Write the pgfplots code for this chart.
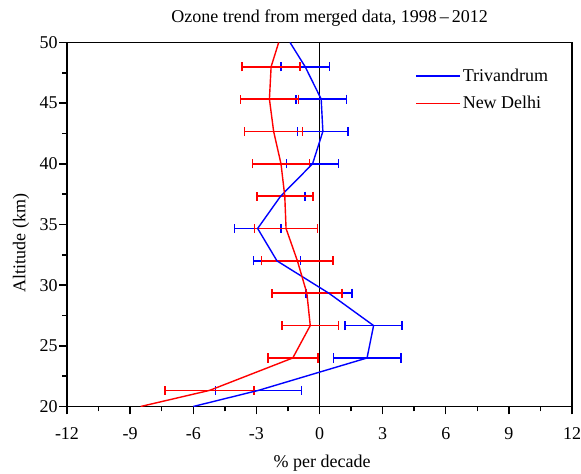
\documentclass[border=0pt]{standalone}
\usepackage{fontspec}
\setmainfont{Liberation Serif}
\usepackage{pgfplots}
\pgfplotsset{compat=1.18}
\begin{document}
\fontsize{9}{11}\selectfont
\begin{tikzpicture}
\path[use as bounding box] (-33.5pt,-33.75pt) rectangle (257pt,203.25pt);
\begin{axis}[
  at={(0,0)}, anchor=south west,
  scale only axis, width=252.5pt, height=182pt,
  xmin=-12, xmax=12, ymin=20, ymax=50,
  xtick={-12,-9,...,12}, ytick={20,25,...,50},
  minor x tick num=1, minor y tick num=1,
  tick pos=left, tick align=outside,
  major tick length=4pt, minor tick length=2.5pt,
  every tick/.append style={black, line width=0.7pt},
  axis line style={line width=0.75pt},
  /pgf/number format/assume math mode=true,
  tick label style={font=\fontsize{9}{11}\selectfont},
  xticklabel style={yshift=-3.5pt},
  yticklabel style={xshift=2.5pt},
  label style={font=\fontsize{9}{11}\selectfont},
  title style={font=\fontsize{9}{11}\selectfont, at={(axis description cs:0.52,1)}, anchor=base, yshift=4pt},
  title={Ozone trend from merged data, 1998\,--\,2012},
  xlabel={\% per decade},
  xlabel style={at={(axis description cs:0.505,0)}, anchor=base, yshift=-30.5pt},
  ylabel={Altitude (km)},
  ylabel style={at={(axis description cs:-0.091,0.449)}, anchor=center},
  legend style={at={(0.689,0.935)}, anchor=north west, draw=none, fill=none,
    inner sep=0pt, row sep=4pt, font=\fontsize{9}{11}\selectfont, nodes={inner sep=1pt}},
  legend cell align=left,
  legend image code/.code={\draw[#1, line width=0.7pt] (0pt,0pt) -- (22pt,0pt);},
]
% zero line
\addplot[black, line width=0.9pt, mark=none, forget plot] coordinates {(0,20) (0,50)};

% error bars, Trivandrum
\addplot[draw=none, mark=none, forget plot,
  error bars/.cd, x dir=both, x explicit, error mark=|,
  error bar style={draw=blue, line width=0.8pt},
  error mark options={draw=blue, mark size=2.3pt, line width=0.8pt}]
  table[x=x, y=y, x error=ex] {
x y ex
-0.68 48 1.16
0.08 45.33 1.20
0.16 42.67 1.20
-0.33 40 1.23
-1.85 37.33 1.15
-2.94 34.67 1.10
-2.02 32 1.11
0.45 29.33 1.09
2.57 26.67 1.35
2.26 24 1.60
-2.90 21.33 2.05
};

% error bars, New Delhi
\addplot[draw=none, mark=none, forget plot,
  error bars/.cd, x dir=both, x explicit, error mark=|,
  error bar style={draw=red, line width=0.8pt},
  error mark options={draw=red, mark size=2.3pt, line width=0.8pt}]
  table[x=x, y=y, x error=ex] {
x y ex
-2.30 48 1.38
-2.38 45.33 1.38
-2.18 42.67 1.38
-1.83 40 1.35
-1.65 37.33 1.33
-1.59 34.67 1.50
-1.05 32 1.70
-0.60 29.33 1.67
-0.44 26.67 1.34
-1.27 24 1.19
-5.22 21.33 2.12
};

\addplot[blue, line width=0.7pt, mark=none] table {
x y
-6.0 20
-2.9 21.33
2.26 24
2.57 26.67
0.45 29.33
-2.02 32
-2.94 34.67
-1.85 37.33
-0.33 40
0.16 42.67
0.08 45.33
-0.68 48
-1.4 50
};
\addlegendentry{Trivandrum}

\addplot[red, line width=0.7pt, mark=none] table {
x y
-8.5 20
-5.22 21.33
-1.27 24
-0.44 26.67
-0.60 29.33
-1.05 32
-1.59 34.67
-1.65 37.33
-1.83 40
-2.18 42.67
-2.38 45.33
-2.30 48
-1.94 50
};
\addlegendentry{New Delhi}
\end{axis}
\end{tikzpicture}
\end{document}
